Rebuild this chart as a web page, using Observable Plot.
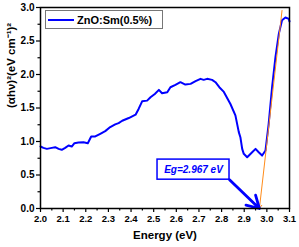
<!DOCTYPE html>
<html>
<head>
<meta charset="utf-8">
<script src="https://cdn.jsdelivr.net/npm/d3@7"></script>
<script src="https://cdn.jsdelivr.net/npm/@observablehq/plot@0.6"></script>
<style>
  body { margin: 0; background: #fff; }
  #wrap { position: relative; width: 299px; height: 247px; }
  #legend { position: absolute; left: 45px; top: 10px; width: 116px; height: 17px;
    border: 1.5px solid #777; background: #fff; font: bold 11px "Liberation Sans", Arial, sans-serif;
    display: flex; align-items: center; }
  #legend .sw { width: 26px; height: 2px; background: #0000ff; margin-left: 2px; margin-right: 3px; }
</style>
</head>
<body>
<div id="wrap"></div>
<script>
const seriesName = "ZnO:Sm(0.5%)";
const energy = [2.000,2.013,2.028,2.050,2.065,2.080,2.094,2.109,2.124,2.138,2.150,2.168,2.190,2.209,2.224,2.242,2.264,2.286,2.308,2.330,2.345,2.361,2.390,2.420,2.434,2.449,2.471,2.486,2.505,2.523,2.537,2.560,2.574,2.596,2.618,2.640,2.663,2.685,2.707,2.721,2.736,2.758,2.773,2.790,2.810,2.839,2.861,2.876,2.883,2.891,2.898,2.913,2.935,2.950,2.964,2.979,2.994,3.008,3.023,3.038,3.053,3.067,3.082,3.097,3.100];
const absorb = [0.925,0.905,0.890,0.905,0.915,0.890,0.876,0.905,0.940,0.925,0.975,0.985,0.990,0.975,1.075,1.075,1.115,1.155,1.215,1.255,1.275,1.310,1.350,1.400,1.490,1.600,1.610,1.660,1.710,1.770,1.720,1.735,1.810,1.845,1.885,1.850,1.860,1.900,1.935,1.920,1.935,1.920,1.885,1.810,1.740,1.560,1.390,1.140,1.064,0.890,0.816,0.766,0.840,0.890,0.840,0.790,0.866,1.264,1.810,2.260,2.610,2.810,2.850,2.830,2.790];
const egValue = 2.967;
const egLabel = "Eg=2.967 eV";
const tangent = [{x: 3.067, y: 2.955}, {x: egValue, y: 0}];
const xTicks = [2.0,2.1,2.2,2.3,2.4,2.5,2.6,2.7,2.8,2.9,3.0,3.1];
const xMinor = [2.05,2.15,2.25,2.35,2.45,2.55,2.65,2.75,2.85,2.95,3.05];
const yTicks = [0.0,0.5,1.0,1.5,2.0,2.5,3.0];
const yMinor = [0.25,0.75,1.25,1.75,2.25,2.75];
const xLabel = "Energy (eV)";
const yLabel = "(αhν)²(eV cm⁻¹)²";
// annotation box (data coords)
const egBox = {x1: 2.517, x2: 2.835, y1: 0.43, y2: 0.73};

const data = energy.map((e, i) => ({x: e, y: absorb[i]}));
const font = "Liberation Sans, Arial, sans-serif";

const chart = Plot.plot({
  width: 299, height: 247,
  marginLeft: 40, marginRight: 10, marginTop: 7, marginBottom: 39,
  style: {fontFamily: font, fontWeight: "bold", fontSize: "9.5px", color: "#000", background: "#fff"},
  x: {domain: [2.0, 3.1]},
  y: {domain: [0, 3.0]},
  marks: [
    Plot.axisX({ticks: xTicks, tickSize: 4, tickPadding: 3, tickFormat: d => d.toFixed(1), label: null, strokeWidth: 1.2}),
    Plot.axisX({ticks: xMinor, tickSize: 2.5, tickFormat: () => "", label: null, strokeWidth: 1.2}),
    Plot.axisY({ticks: yTicks, tickSize: 4, tickPadding: 2, tickFormat: d => d.toFixed(1), label: null, strokeWidth: 1.2, fontSize: 10}),
    Plot.axisY({ticks: yMinor, tickSize: 2.5, tickFormat: () => "", label: null, strokeWidth: 1.2}),
    Plot.line(data, {x: "x", y: "y", stroke: "#0000ff", strokeWidth: 2}),
    Plot.arrow(tangent, {x1: d => tangent[0].x, y1: d => tangent[0].y, x2: d => tangent[1].x, y2: d => tangent[1].y, filter: (d, i) => i === 0, stroke: "#ff8c1a", strokeWidth: 1, headLength: 6}),
    Plot.rect([egBox], {x1: "x1", x2: "x2", y1: "y1", y2: "y2", fill: "#fff", stroke: "#0000ff", strokeWidth: 1.5}),
    Plot.text([egBox], {x: d => (d.x1 + d.x2) / 2, y: d => (d.y1 + d.y2) / 2, text: () => egLabel, fill: "#0000ff", fontStyle: "italic", fontWeight: "bold", fontSize: 10}),
    Plot.arrow([egBox], {x1: "x2", y1: "y1", x2: () => egValue, y2: () => 0, stroke: "#0000ff", strokeWidth: 2.8, headLength: 10, inset: 0}),
    Plot.text([xLabel], {frameAnchor: "bottom", dy: 30, fontSize: 11.5, fontWeight: "bold"}),
    Plot.text([yLabel], {frameAnchor: "left", dx: -29, rotate: -90, fontSize: 11.5, fontWeight: "bold"}),
    Plot.frame({stroke: "#000", strokeWidth: 1.5})
  ]
});
const wrap = document.getElementById("wrap");
wrap.appendChild(chart);
const lg = document.createElement("div");
lg.id = "legend";
lg.innerHTML = '<span class="sw"></span><span></span>';
lg.lastChild.textContent = seriesName;
wrap.appendChild(lg);
</script>
</body>
</html>
